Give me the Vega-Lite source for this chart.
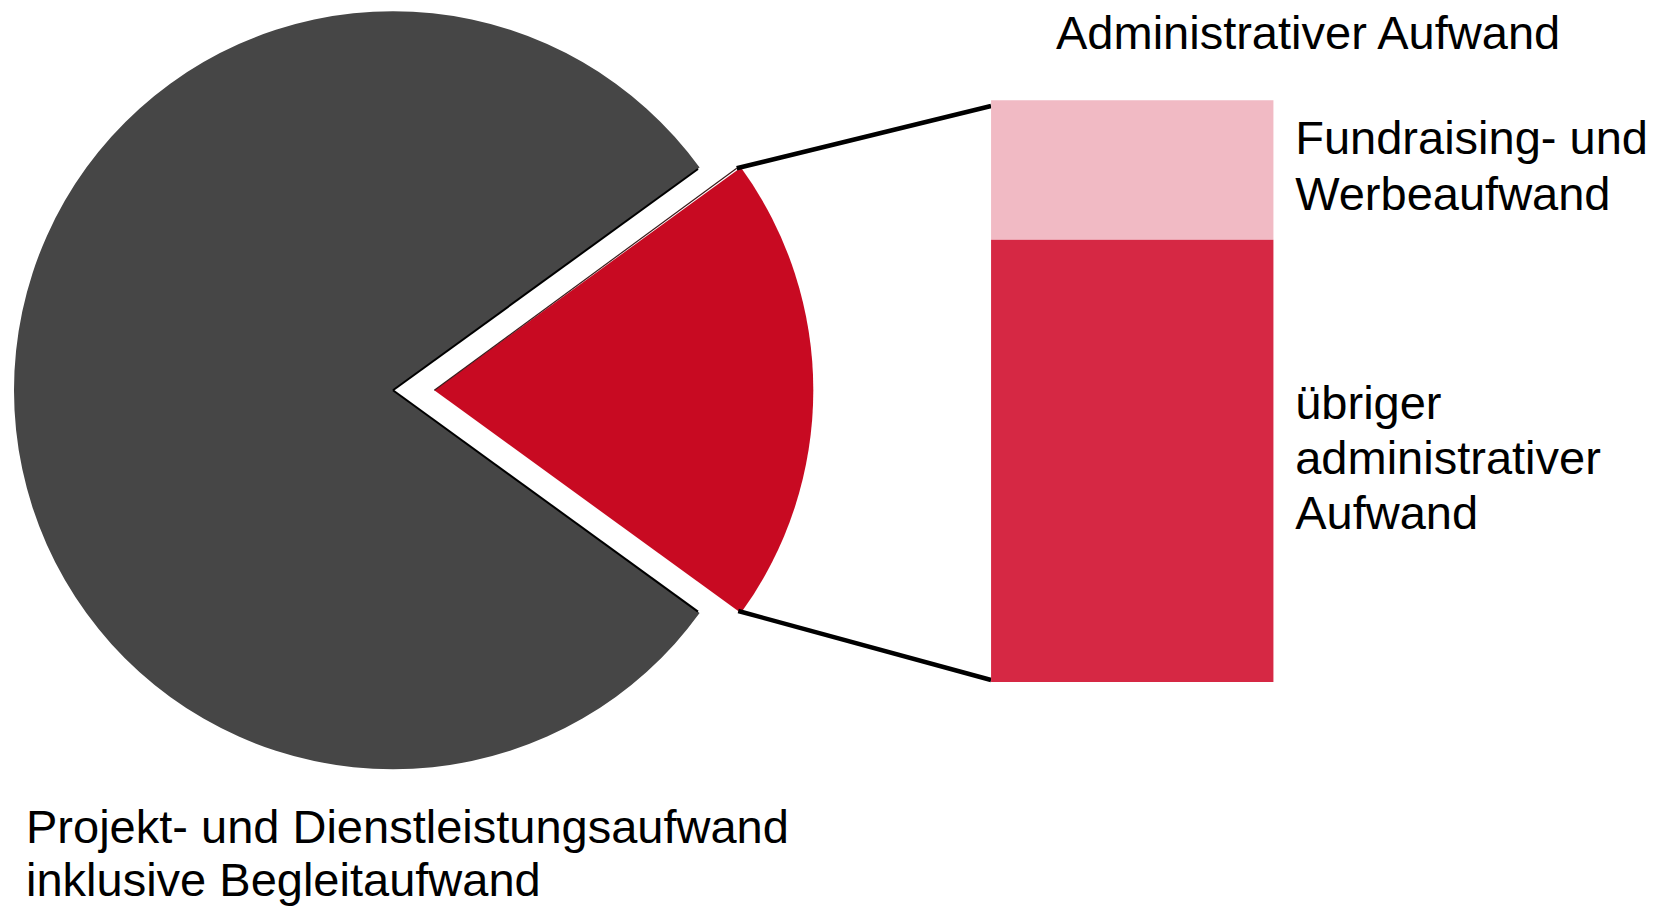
{
  "$schema": "https://vega.github.io/schema/vega-lite/v6.json",
  "width": 1653,
  "height": 908,
  "padding": 0,
  "autosize": {"type": "fit", "contains": "padding"},
  "background": "white",
  "config": {"view": {"stroke": null}, "font": "Liberation Sans"},
  "datasets": {
    "kreis": [
      {"Kategorie": "Administrativer Aufwand", "Anteil": 20},
      {"Kategorie": "Projekt- und Dienstleistungsaufwand inklusive Begleitaufwand", "Anteil": 80}
    ],
    "balken": [
      {"Teil": "Fundraising- und Werbeaufwand", "Anteil": 24},
      {"Teil": "übriger administrativer Aufwand", "Anteil": 76}
    ]
  },
  "layer": [
    {
      "layer": [
        {
          "data": {"name": "kreis"},
          "mark": {"type": "arc", "outerRadius": 379},
          "encoding": {
            "x": {"datum": 0, "type": "quantitative", "scale": {"domain": [-1.0369, 3.3245], "nice": false, "zero": false}, "axis": null},
            "y": {"datum": 0, "type": "quantitative", "scale": {"domain": [-1.366, 1.0298], "nice": false, "zero": false}, "axis": null},
            "theta": {"field": "Anteil", "type": "quantitative", "stack": true, "scale": {"range": [0.9425, 7.2257]}},
            "color": {"field": "Kategorie", "type": "nominal", "scale": {"domain": ["Administrativer Aufwand", "Projekt- und Dienstleistungsaufwand inklusive Begleitaufwand"], "range": ["#C80A22", "#464646"]}, "legend": null},
            "opacity": {"condition": {"test": "datum.Kategorie == 'Administrativer Aufwand'", "value": 0}, "value": 1}
          }
        },
        {
          "data": {"name": "kreis"},
          "mark": {"type": "arc", "outerRadius": 379},
          "encoding": {
            "x": {"datum": 0.109, "type": "quantitative", "scale": {"domain": [-1.0369, 3.3245], "nice": false, "zero": false}, "axis": null},
            "y": {"datum": 0, "type": "quantitative", "scale": {"domain": [-1.366, 1.0298], "nice": false, "zero": false}, "axis": null},
            "theta": {"field": "Anteil", "type": "quantitative", "stack": true, "scale": {"range": [0.9425, 7.2257]}},
            "color": {"field": "Kategorie", "type": "nominal", "scale": {"domain": ["Administrativer Aufwand", "Projekt- und Dienstleistungsaufwand inklusive Begleitaufwand"], "range": ["#C80A22", "#464646"]}, "legend": null},
            "opacity": {"condition": {"test": "datum.Kategorie == 'Administrativer Aufwand'", "value": 1}, "value": 0}
          }
        },
        {
          "data": {"values": [{"Kante": "Kerbe oben"}]},
          "mark": {"type": "rule", "strokeWidth": 2, "color": "black", "strokeCap": "butt"},
          "encoding": {
            "x": {"datum": 0, "type": "quantitative", "scale": {"domain": [-1.0369, 3.3245], "nice": false, "zero": false}, "axis": null},
            "y": {"datum": 0, "type": "quantitative", "scale": {"domain": [-1.366, 1.0298], "nice": false, "zero": false}, "axis": null},
            "x2": {"datum": 0.8047},
            "y2": {"datum": 0.5839}
          }
        },
        {
          "data": {"values": [{"Kante": "Kerbe unten"}]},
          "mark": {"type": "rule", "strokeWidth": 2, "color": "black", "strokeCap": "butt"},
          "encoding": {
            "x": {"datum": 0, "type": "quantitative", "scale": {"domain": [-1.0369, 3.3245], "nice": false, "zero": false}, "axis": null},
            "y": {"datum": 0, "type": "quantitative", "scale": {"domain": [-1.366, 1.0298], "nice": false, "zero": false}, "axis": null},
            "x2": {"datum": 0.8047},
            "y2": {"datum": -0.5839}
          }
        },
        {
          "data": {"values": [{"Kante": "Segment oben"}]},
          "mark": {"type": "rule", "strokeWidth": 1.2, "color": "#3a1a1a", "strokeCap": "butt"},
          "encoding": {
            "x": {"datum": 0.109, "type": "quantitative", "scale": {"domain": [-1.0369, 3.3245], "nice": false, "zero": false}, "axis": null},
            "y": {"datum": 0, "type": "quantitative", "scale": {"domain": [-1.366, 1.0298], "nice": false, "zero": false}, "axis": null},
            "x2": {"datum": 0.9069},
            "y2": {"datum": 0.5858}
          }
        },
        {
          "data": {"values": [{"Verbindung": "oben"}]},
          "mark": {"type": "rule", "strokeWidth": 4.5, "color": "black", "strokeCap": "butt"},
          "encoding": {
            "x": {"datum": 0.9069, "type": "quantitative", "scale": {"domain": [-1.0369, 3.3245], "nice": false, "zero": false}, "axis": null},
            "y": {"datum": 0.5858, "type": "quantitative", "scale": {"domain": [-1.366, 1.0298], "nice": false, "zero": false}, "axis": null},
            "x2": {"datum": 1.578},
            "y2": {"datum": 0.7501}
          }
        },
        {
          "data": {"values": [{"Verbindung": "unten"}]},
          "mark": {"type": "rule", "strokeWidth": 4.5, "color": "black", "strokeCap": "butt"},
          "encoding": {
            "x": {"datum": 0.911, "type": "quantitative", "scale": {"domain": [-1.0369, 3.3245], "nice": false, "zero": false}, "axis": null},
            "y": {"datum": -0.5823, "type": "quantitative", "scale": {"domain": [-1.366, 1.0298], "nice": false, "zero": false}, "axis": null},
            "x2": {"datum": 1.578},
            "y2": {"datum": -0.7644}
          }
        },
        {
          "data": {"values": [{"Beschriftung": "Administrativer Aufwand"}]},
          "mark": {"type": "text", "align": "left", "baseline": "alphabetic", "fontSize": 47, "font": "Liberation Sans", "color": "black"},
          "encoding": {
            "x": {"datum": 1.7493, "type": "quantitative", "scale": {"domain": [-1.0369, 3.3245], "nice": false, "zero": false}, "axis": null},
            "y": {"datum": 0.9018, "type": "quantitative", "scale": {"domain": [-1.366, 1.0298], "nice": false, "zero": false}, "axis": null},
            "text": {"field": "Beschriftung"}
          }
        },
        {
          "data": {"values": [{"Beschriftung": "Fundraising- und\nWerbeaufwand"}]},
          "mark": {"type": "text", "align": "left", "baseline": "alphabetic", "fontSize": 47, "font": "Liberation Sans", "color": "black", "lineBreak": "\n", "lineHeight": 56},
          "encoding": {
            "x": {"datum": 2.3805, "type": "quantitative", "scale": {"domain": [-1.0369, 3.3245], "nice": false, "zero": false}, "axis": null},
            "y": {"datum": 0.6235, "type": "quantitative", "scale": {"domain": [-1.366, 1.0298], "nice": false, "zero": false}, "axis": null},
            "text": {"field": "Beschriftung"}
          }
        },
        {
          "data": {"values": [{"Beschriftung": "übriger\nadministrativer\nAufwand"}]},
          "mark": {"type": "text", "align": "left", "baseline": "alphabetic", "fontSize": 47, "font": "Liberation Sans", "color": "black", "lineBreak": "\n", "lineHeight": 55},
          "encoding": {
            "x": {"datum": 2.3805, "type": "quantitative", "scale": {"domain": [-1.0369, 3.3245], "nice": false, "zero": false}, "axis": null},
            "y": {"datum": -0.0757, "type": "quantitative", "scale": {"domain": [-1.366, 1.0298], "nice": false, "zero": false}, "axis": null},
            "text": {"field": "Beschriftung"}
          }
        },
        {
          "data": {"values": [{"Beschriftung": "Projekt- und Dienstleistungsaufwand\ninklusive Begleitaufwand"}]},
          "mark": {"type": "text", "align": "left", "baseline": "alphabetic", "fontSize": 47, "font": "Liberation Sans", "color": "black", "lineBreak": "\n", "lineHeight": 53},
          "encoding": {
            "x": {"datum": -0.9683, "type": "quantitative", "scale": {"domain": [-1.0369, 3.3245], "nice": false, "zero": false}, "axis": null},
            "y": {"datum": -1.1955, "type": "quantitative", "scale": {"domain": [-1.366, 1.0298], "nice": false, "zero": false}, "axis": null},
            "text": {"field": "Beschriftung"}
          }
        }
      ]
    },
    {
      "data": {"name": "balken"},
      "transform": [
        {"stack": "Anteil", "groupby": [], "sort": [{"field": "Anteil", "order": "descending"}], "as": ["Anteil_von", "Anteil_bis"]}
      ],
      "mark": {"type": "bar"},
      "encoding": {
        "x": {"datum": 1.578, "type": "quantitative", "scale": {"domain": [-1.0369, 3.3245], "nice": false, "zero": false}, "axis": null},
        "x2": {"datum": 2.323},
        "y": {"field": "Anteil_von", "type": "quantitative", "scale": {"domain": [-38.84, 117.22], "nice": false, "zero": false}, "axis": null},
        "y2": {"field": "Anteil_bis"},
        "color": {"field": "Teil", "type": "nominal", "scale": {"domain": ["Fundraising- und Werbeaufwand", "übriger administrativer Aufwand"], "range": ["#F1BAC4", "#D62844"]}, "legend": null}
      }
    }
  ],
  "resolve": {"scale": {"y": "independent", "color": "independent"}}
}
